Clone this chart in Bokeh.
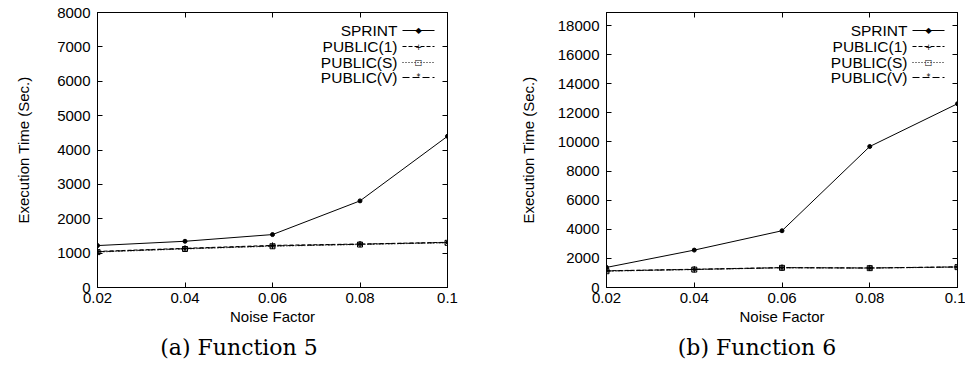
from bokeh.plotting import figure
from bokeh.layouts import row, column
from bokeh.models import (Range1d, FixedTicker, LinearAxis, Label, Arrow,
                          NumeralTickFormatter, Div, CustomLabelingPolicy)
from bokeh.embed import file_html
from bokeh.resources import INLINE

# ---------------- data ----------------
noise = [0.02, 0.04, 0.06, 0.08, 0.1]
noise_labels = ["0.02", "0.04", "0.06", "0.08", "0.1"]
series_names = ["SPRINT", "PUBLIC(1)", "PUBLIC(S)", "PUBLIC(V)"]

f5_sprint = [1220, 1345, 1540, 2520, 4400]
f5_public1 = [1050, 1140, 1225, 1265, 1315]
f5_publicS = [1030, 1120, 1200, 1250, 1300]
f5_publicV = [1040, 1130, 1210, 1258, 1308]

f6_sprint = [1380, 2570, 3900, 9690, 12630]
f6_public1 = [1150, 1255, 1370, 1345, 1420]
f6_publicS = [1120, 1230, 1350, 1330, 1400]
f6_publicV = [1135, 1240, 1360, 1338, 1410]

f5_yticks = [0, 1000, 2000, 3000, 4000, 5000, 6000, 7000, 8000]
f6_yticks = [0, 2000, 4000, 6000, 8000, 10000, 12000, 14000, 16000, 18000]

captions = ["(a) Function 5", "(b) Function 6"]

FONT = "Liberation Sans"
FIG_H = 330
styles = [
    dict(dash="solid", marker="circle", size=4, fill="black"),
    dict(dash="4 2", marker="cross", size=6, fill=None),
    dict(dash="1 2", marker="square", size=5, fill=None),
    dict(dash="7 3", marker="asterisk", size=6, fill=None),
]
legend_marks = ["\u25c6", "+", "\u25a1", "*"]


def hidden_labels():
    return CustomLabelingPolicy(code="""
try {
  const n = indices.size
  for (let i = 0; i < n; i++) { indices.unset(i) }
} catch (e) {}
return indices
""")


def make_panel(width, border_left, border_right, ymax, yticks, data,
               ylabel_standoff):
    p = figure(width=width, height=FIG_H, output_backend="svg",
               toolbar_location=None, x_range=Range1d(0.02, 0.1),
               y_range=Range1d(0, ymax), min_border_left=border_left,
               min_border_right=border_right, min_border_top=12,
               min_border_bottom=FIG_H - 287)
    p.grid.visible = False
    p.outline_line_color = "black"
    p.outline_line_width = 1
    p.background_fill_color = "white"
    p.border_fill_color = "white"

    xa = p.xaxis[0]
    xa.ticker = FixedTicker(ticks=noise)
    xa.major_label_overrides = {t: l for t, l in zip(noise, noise_labels)}
    xa.axis_label = "Noise Factor"
    ya = p.yaxis[0]
    ya.ticker = FixedTicker(ticks=yticks)
    ya.formatter = NumeralTickFormatter(format="0")
    ya.axis_label = "Execution Time (Sec.)"
    ya.axis_label_standoff = ylabel_standoff
    xa.axis_label_standoff = 2
    for ax in (xa, ya):
        ax.major_tick_in = 5
        ax.major_tick_out = 0
        ax.minor_tick_line_color = None
        ax.axis_line_color = "black"
        ax.major_label_text_font = FONT
        ax.major_label_text_font_size = "15px"
        ax.major_label_text_color = "black"
        ax.axis_label_text_font = FONT
        ax.axis_label_text_font_size = "15px"
        ax.axis_label_text_font_style = "normal"
        ax.axis_label_text_color = "black"
    xa.major_label_standoff = 5
    ya.major_label_standoff = 7

    # mirrored ticks on top and right (no labels)
    top = LinearAxis(ticker=FixedTicker(ticks=noise))
    right = LinearAxis(ticker=FixedTicker(ticks=yticks))
    for ax in (top, right):
        ax.major_tick_in = 5
        ax.major_tick_out = 0
        ax.minor_tick_line_color = None
        ax.major_label_text_font_size = "1px"
        ax.major_label_standoff = 0
        ax.major_label_policy = hidden_labels()
        ax.axis_line_color = "black"
    p.add_layout(top, "above")
    p.add_layout(right, "right")

    for vals, st in zip(data, styles):
        p.line(noise, vals, line_color="black", line_width=1,
               line_dash=st["dash"])
        p.scatter(noise, vals, marker=st["marker"], size=st["size"],
                  line_color="black", fill_color=st["fill"], line_width=1)

    # gnuplot-style legend (text right-aligned, sample on the right)
    frame_w = width - border_left - border_right
    text_right = frame_w - 50
    row_y = [257, 241, 225, 210]
    for name, st, mk, yy in zip(series_names, styles, legend_marks, row_y):
        p.add_layout(Label(x=text_right, y=yy, x_units="screen",
                           y_units="screen", text=name, text_font=FONT,
                           text_font_size="15.5px", text_align="right",
                           text_baseline="middle", text_color="black"))
        p.add_layout(Arrow(x_start=text_right + 5, y_start=yy,
                           x_end=text_right + 37, y_end=yy,
                           start_units="screen", end_units="screen",
                           end=None, line_color="black", line_width=1,
                           line_dash=st["dash"]))
        p.add_layout(Label(x=text_right + 21, y=yy, x_units="screen",
                           y_units="screen", text=mk,
                           text_font="DejaVu Sans", text_font_size="8px",
                           text_align="center", text_baseline="middle",
                           text_color="black"))
    return p


def caption_div(text, width, center):
    html = ('<div style="position:absolute; left:%dpx; top:7px; '
            'transform:translateX(-50%%); white-space:nowrap; '
            'font-family:\'DejaVu Serif\'; font-size:22px; line-height:22px; '
            'color:black;">%s</div>' % (center, text))
    return Div(text=html, width=width, height=391 - FIG_H, margin=0,
               styles={"position": "relative"})


p1 = make_panel(480, 97, 33, 8000, f5_yticks,
                [f5_sprint, f5_public1, f5_publicS, f5_publicV], 22)
p2 = make_panel(485, 126, 8, 18900, f6_yticks,
                [f6_sprint, f6_public1, f6_publicS, f6_publicV], 18)

d1 = caption_div(captions[0], 478, 239)
d2 = caption_div(captions[1], 487, 757 - 478)

layout = column(row(p1, p2), row(d1, d2))
open("out.html", "w").write(file_html(layout, INLINE))
